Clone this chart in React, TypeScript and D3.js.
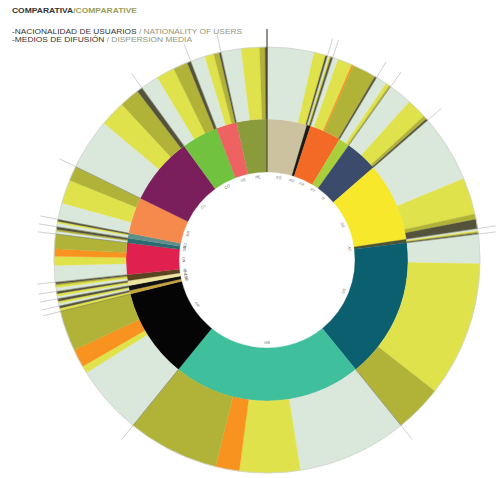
import React from "react";
import * as d3 from "d3";

// Inner ring: nationality of users (values in share units, clockwise from 12 o'clock)
const countries = ["ES", "AD", "FR", "PT", "IT", "DE", "AT", "US", "GB", "AR", "BE", "CH", "NL", "IE", "MX", "SE", "NO", "BR", "CL", "CO", "VE", "PE"];
const countryValues = [16.5, 1.5, 13, 4.5, 13.5, 32.5, 1.5, 58, 78, 37, 1.5, 2, 2, 2.5, 13, 2, 2, 15, 28, 15, 8.5, 12.5];
const countryColors = ["#cdc29f", "#1a1a1a", "#f36a26", "#a9cf3a", "#3b4b6c", "#f7e82b", "#4e5430", "#0b5f6f", "#3fbf9b", "#050505", "#c9a43c", "#111111", "#efe3a0", "#5a4520", "#e02150", "#2b6b70", "#5e8f8a", "#f58a4c", "#7b1f5c", "#70c23f", "#ee6262", "#8a9b3b"];

// Outer ring: dispersion media per nationality
const mediaNames = ["Prensa", "Radio", "TV", "Internet", "Otros"];
const mediaColors = ["#dae8dc", "#dfe24b", "#f7931e", "#b1b238", "#55523c"];
const mediaPrensa = [12.8, 0.5, 1.5, 3, 6.5, 18.5, 0.6, 8, 30, 19, 0, 0.7, 0.7, 1, 4.5, 0.8, 1, 4.5, 14, 5, 4, 5.5];
const mediaRadio = [3.2, 0.3, 4, 1, 5.5, 10, 0.3, 37, 16.5, 2, 0.9, 0.6, 0.7, 0.6, 2.5, 0, 0.5, 6.5, 7, 5, 2.5, 5];
const mediaTV = [0, 0, 0.5, 0, 0, 0, 0, 0, 6.5, 5, 0, 0, 0, 0, 2, 0, 0, 0, 0, 0, 0, 0];
const mediaInternet = [0, 0.2, 6.5, 0.5, 1, 1.5, 0.3, 13, 25, 11, 0, 0, 0, 0.4, 4, 0.5, 0, 4, 5.5, 4, 1.5, 1.5];
const mediaOtros = [0.5, 0.5, 0.5, 0, 0.5, 2.5, 0.3, 0, 0, 0, 0.6, 0.7, 0.6, 0.5, 0, 0.7, 0.5, 0, 1.5, 1, 0.5, 0.5];

const W = 503, H = 478;
const cx = 267, cy = 260;
const r0 = 88, r1 = 141, r2 = 213, rExt = 231;

export default function App() {
  const media = [mediaPrensa, mediaRadio, mediaTV, mediaInternet, mediaOtros];
  const pie = d3.pie<number>().sort(null).value((d) => d).startAngle(0).endAngle(2 * Math.PI);
  const arcs = pie(countryValues);
  const innerArc = d3.arc<any>().innerRadius(r0).outerRadius(r1);
  const outerArc = d3.arc<any>().innerRadius(r1).outerRadius(r2);

  const outerSegs: { s: number; e: number; color: string; key: string }[] = [];
  arcs.forEach((a, i) => {
    const sub = d3.scaleLinear().domain([0, countryValues[i]]).range([a.startAngle, a.endAngle]);
    let cum = 0;
    media.forEach((m, k) => {
      const v = m[i];
      if (v > 0) outerSegs.push({ s: sub(cum), e: sub(cum + v), color: mediaColors[k], key: `${i}-${k}` });
      cum += v;
    });
  });

  const pt = (a: number, r: number) => [Math.sin(a) * r, -Math.cos(a) * r];

  return (
    <svg width={W} height={H} style={{ position: "absolute", left: 0, top: 0, background: "#fff" }} fontFamily="Liberation Sans, Arial, sans-serif">
      <text x={12} y={13} fontSize={7.2} fontWeight="bold" textLength={125} lengthAdjust="spacingAndGlyphs">
        <tspan fill="#333">COMPARATIVA</tspan>
        <tspan fill="#9aa05a">/COMPARATIVE</tspan>
      </text>
      <text x={12} y={34} fontSize={6.8} textLength={230} lengthAdjust="spacingAndGlyphs">
        <tspan fill="#333">-NACIONALIDAD DE USUARIOS </tspan>
        <tspan fill="#8f957a">/ NATIONALITY OF USERS</tspan>
      </text>
      <text x={12} y={42} fontSize={6.8} textLength={180} lengthAdjust="spacingAndGlyphs">
        <tspan fill="#333">-MEDIOS DE DIFUSIÓN </tspan>
        <tspan fill="#8f957a">/ DISPERSION MEDIA</tspan>
      </text>
      <g transform={`translate(${cx},${cy})`}>
        {arcs.map((a, i) => (
          <path key={"in" + i} d={innerArc(a) as string} fill={countryColors[i]} stroke={countryColors[i]} strokeWidth={0.3} />
        ))}
        {outerSegs.map((s) => (
          <path key={"o" + s.key} d={outerArc({ startAngle: s.s, endAngle: s.e }) as string} fill={s.color} stroke={s.color} strokeWidth={0.3} />
        ))}
        <circle r={r2} fill="none" stroke="#cfd3cc" strokeWidth={0.8} />
        {arcs.map((a, i) => {
          const [x1, y1] = pt(a.startAngle, r1);
          const [x2, y2] = pt(a.startAngle, r2);
          const [x3, y3] = pt(a.startAngle, rExt);
          return (
            <g key={"b" + i}>
              <line x1={x1} y1={y1} x2={x2} y2={y2} stroke="#5b5a3e" strokeWidth={0.6} opacity={0.8} />
              <line x1={x2} y1={y2} x2={x3} y2={y3} stroke="#c4c4c4" strokeWidth={0.8} />
            </g>
          );
        })}
        <line x1={0} y1={-r0} x2={0} y2={-rExt} stroke="#3e3e30" strokeWidth={1} />
        {arcs.map((a, i) => {
          const m = (a.startAngle + a.endAngle) / 2;
          const [x, y] = pt(m, 83);
          let deg = (m * 180) / Math.PI;
          if (deg > 90 && deg < 270) deg -= 180;
          return (
            <text key={"l" + i} x={x} y={y} fontSize={4} fill="#777" textAnchor="middle" dominantBaseline="middle" transform={`rotate(${deg},${x},${y})`}>
              {countries[i]}
            </text>
          );
        })}
      </g>
    </svg>
  );
}
